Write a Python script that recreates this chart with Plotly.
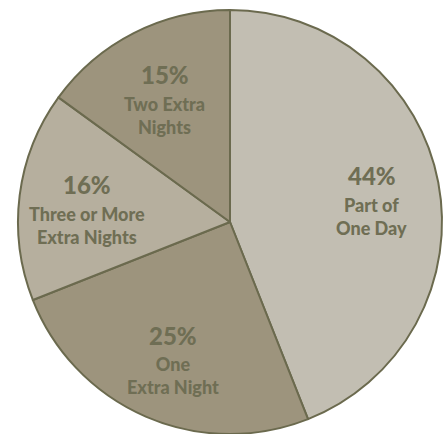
import math
import plotly.graph_objects as go

# Share of trips by length of stay
labels = ["Part of<br>One Day", "One<br>Extra Night", "Three or More<br>Extra Nights", "Two Extra<br>Nights"]
values = [44, 25, 16, 15]
colors = ["#c2beb2", "#9d947d", "#b6af9e", "#9d947d"]

W, H = 448, 434
CX, CY, R = 230, 222, 212  # pie centre / radius in pixels (from top-left)
TEXT = "#6f6e54"
FONT = "Lato"

fig = go.Figure(go.Pie(
    labels=labels,
    values=values,
    sort=False,
    direction="clockwise",
    rotation=0,
    marker=dict(colors=colors, line=dict(color="#6b6a4e", width=2)),
    textinfo="none",
    hoverinfo="label+percent",
    showlegend=False,
    domain=dict(x=[(CX - R) / W, (CX + R) / W], y=[(H - CY - R) / H, (H - CY + R) / H]),
))

# Place each label block at the middle angle of its slice
total = sum(values)
start = 0.0
annotations = []
for lab, v in zip(labels, values):
    mid = (start + v / 2) / total * 2 * math.pi
    start += v
    rr = 0.68 * R
    px = CX + rr * math.sin(mid)
    py = CY - rr * math.cos(mid) + 8
    annotations.append(dict(
        x=px / W, y=1 - (py - 27) / H, xref="paper", yref="paper",
        text=f"{v}%", showarrow=False,
        font=dict(family=FONT, size=24, color=TEXT, weight=900),
        xanchor="center", yanchor="middle",
    ))
    annotations.append(dict(
        x=px / W, y=1 - (py - 11) / H, xref="paper", yref="paper",
        text=lab, showarrow=False,
        font=dict(family=FONT, size=18, color=TEXT, weight=900),
        xanchor="center", yanchor="top",
    ))

fig.update_layout(
    width=W, height=H,
    margin=dict(l=0, r=0, t=0, b=0),
    paper_bgcolor="white",
    plot_bgcolor="white",
    annotations=annotations,
)

fig.write_html("out.html")
